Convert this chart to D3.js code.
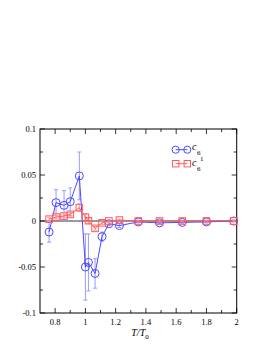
<!DOCTYPE html>
<html><head><meta charset="utf-8">
<script src="https://cdn.jsdelivr.net/npm/d3@7"></script>
<style>body{margin:0;background:#fff}svg{display:block}</style>
</head><body>
<script>
const xs   = [0.76, 0.806, 0.859, 0.9, 0.96, 1.0, 1.02, 1.064, 1.11, 1.155, 1.225, 1.35, 1.49, 1.64, 1.8, 1.98];
const c6   = [-0.012, 0.020, 0.017, 0.021, 0.049, -0.050, -0.045, -0.057, -0.017, -0.003, -0.005, -0.001, -0.002, -0.0015, -0.001, 0.0];
const c6e  = [0.011, 0.014, 0.016, 0.015, 0.026, 0.036, 0.031, 0.016, 0.005, 0.002, 0.002, 0.001, 0.001, 0.001, 0.001, 0.001];
const c61  = [0.002, 0.0043, 0.0054, 0.0072, 0.0145, 0.004, 0.0003, -0.008, -0.002, 0.0, 0.001, 0.0, 0.0, 0.0, 0.0, 0.0];
const c61e = [0.002, 0.002, 0.002, 0.002, 0.004, 0.004, 0.003, 0.002, 0.002, 0.001, 0.001, 0.001, 0.001, 0.001, 0.001, 0.001];
const xTicks = [0.8, 1.0, 1.2, 1.4, 1.6, 1.8, 2.0];
const xTickLabels = ["0.8", "1", "1.2", "1.4", "1.6", "1.8", "2"];
const yTicks = [-0.1, -0.05, 0, 0.05, 0.1];
const yTickLabels = ["-0.1", "-0.05", "0", "0.05", "0.1"];

const W = 273, H = 353;
const L = 40, R = 236.7, T = 129, B = 313;
const svg = d3.select("body").append("svg").attr("width", W).attr("height", H);
const x = d3.scaleLinear().domain([0.7, 2.0]).range([L, R]);
const y = d3.scaleLinear().domain([-0.1, 0.1]).range([B, T]);
const font = "Liberation Serif, serif";

// zero line
svg.append("line").attr("x1", L).attr("x2", R).attr("y1", y(0)).attr("y2", y(0))
  .attr("stroke", "#000").attr("stroke-width", 0.8);

// axes with inward ticks
const minorX = d3.range(0.8, 2.001, 0.1);
const minorY = d3.range(-0.1, 0.1001, 0.025);
const g = svg.append("g").attr("stroke", "#000").attr("stroke-width", 0.8);
minorX.forEach(v => {
  const major = xTicks.some(t => Math.abs(t - v) < 1e-6);
  const len = major ? 5 : 3;
  g.append("line").attr("x1", x(v)).attr("x2", x(v)).attr("y1", B).attr("y2", B - len);
  g.append("line").attr("x1", x(v)).attr("x2", x(v)).attr("y1", T).attr("y2", T + len);
});
minorY.forEach(v => {
  const major = yTicks.some(t => Math.abs(t - v) < 1e-6);
  const len = major ? 5 : 3;
  g.append("line").attr("x1", L).attr("x2", L + len).attr("y1", y(v)).attr("y2", y(v));
  g.append("line").attr("x1", R).attr("x2", R - len).attr("y1", y(v)).attr("y2", y(v));
});
svg.append("rect").attr("x", L).attr("y", T).attr("width", R - L).attr("height", B - T)
  .attr("fill", "none").attr("stroke", "#000").attr("stroke-width", 1);

xTicks.forEach((v, i) => {
  svg.append("text").attr("x", x(v)).attr("y", B + 12).attr("text-anchor", "middle")
    .attr("font-family", font).attr("font-size", 8.5).text(xTickLabels[i]);
});
yTicks.forEach((v, i) => {
  svg.append("text").attr("x", L - 4).attr("y", y(v) + 3).attr("text-anchor", "end")
    .attr("font-family", font).attr("font-size", 8.5).text(yTickLabels[i]);
});
const xl = svg.append("text").attr("x", 140).attr("y", 336).attr("text-anchor", "middle")
  .attr("font-family", font).attr("font-size", 10).attr("font-style", "italic");
xl.append("tspan").text("T/T");
xl.append("tspan").attr("font-size", 7).attr("dy", 2.5).attr("font-style", "normal").text("0");

function series(vals, errs, color, ecolor, shape) {
  const gs = svg.append("g");
  const idx = d3.range(xs.length);
  idx.forEach(i => {
    const cx = x(xs[i]);
    const y1 = y(vals[i] + errs[i]), y2 = y(vals[i] - errs[i]);
    gs.append("line").attr("x1", cx).attr("x2", cx).attr("y1", y1).attr("y2", y2)
      .attr("stroke", ecolor).attr("stroke-width", 1);
    [y1, y2].forEach(yy => gs.append("line").attr("x1", cx - 2).attr("x2", cx + 2)
      .attr("y1", yy).attr("y2", yy).attr("stroke", ecolor).attr("stroke-width", 1));
  });
  const line = d3.line().x(i => x(xs[i])).y(i => y(vals[i]));
  gs.append("path").attr("d", line(idx)).attr("fill", "none").attr("stroke", color).attr("stroke-width", 1);
  idx.forEach(i => {
    const cx = x(xs[i]), cy = y(vals[i]);
    if (shape === "circle") gs.append("circle").attr("cx", cx).attr("cy", cy).attr("r", 4)
      .attr("fill", "none").attr("stroke", color).attr("stroke-width", 1);
    else gs.append("rect").attr("x", cx - 3.3).attr("y", cy - 3.3).attr("width", 6.6).attr("height", 6.6)
      .attr("fill", "none").attr("stroke", color).attr("stroke-width", 1);
  });
}
series(c6, c6e, "#4a4aff", "#9a9aff", "circle");
series(c61, c61e, "#ff5a5a", "#ff9a9a", "square");

// legend
const lg = svg.append("g");
lg.append("line").attr("x1", 175.7).attr("x2", 187.3).attr("y1", 149.7).attr("y2", 149.7).attr("stroke", "#4a4aff");
[175.7, 187.3].forEach(cx => lg.append("circle").attr("cx", cx).attr("cy", 149.7).attr("r", 3.6)
  .attr("fill", "none").attr("stroke", "#4a4aff"));
lg.append("line").attr("x1", 175.7).attr("x2", 187.3).attr("y1", 163.7).attr("y2", 163.7).attr("stroke", "#ff5a5a");
[175.7, 187.3].forEach(cx => lg.append("rect").attr("x", cx - 3.2).attr("y", 163.7 - 3.2).attr("width", 6.4).attr("height", 6.4)
  .attr("fill", "none").attr("stroke", "#ff5a5a"));
lg.append("text").attr("x", 192).attr("y", 150).attr("font-family", font).attr("font-size", 10).attr("font-style", "italic").text("c");
lg.append("text").attr("x", 197).attr("y", 154.5).attr("font-family", font).attr("font-size", 7).text("6");
lg.append("text").attr("x", 200).attr("y", 161).attr("font-family", font).attr("font-size", 7).text("1");
lg.append("text").attr("x", 192).attr("y", 166).attr("font-family", font).attr("font-size", 10).attr("font-style", "italic").text("c");
lg.append("text").attr("x", 197).attr("y", 170.5).attr("font-family", font).attr("font-size", 7).text("6");
</script>
</body></html>
